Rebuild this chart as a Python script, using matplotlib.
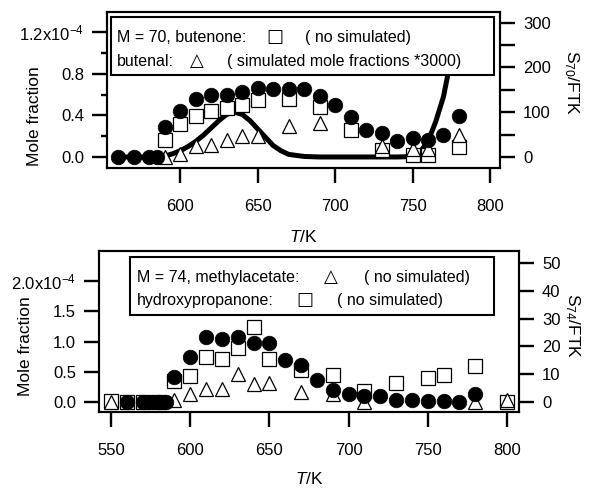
import matplotlib
matplotlib.use('Agg')
import matplotlib.pyplot as plt
from matplotlib.patches import Rectangle

plt.rcParams['font.family'] = ['Liberation Sans', 'DejaVu Sans']
plt.rcParams['mathtext.fontset'] = 'custom'
plt.rcParams['mathtext.rm'] = 'Liberation Sans'
plt.rcParams['mathtext.it'] = 'Liberation Sans:italic'

# M = 70 (mole fractions in units of 1e-4)
t70_total = [560, 570, 580, 585, 590, 600, 610, 620, 630, 640, 650, 660, 670,
             680, 690, 700, 710, 720, 730, 740, 750, 760, 770, 780]
x70_total = [0, 0, 0, 0, 0.29, 0.44, 0.56, 0.60, 0.60, 0.62, 0.66, 0.65, 0.65,
             0.65, 0.59, 0.50, 0.38, 0.26, 0.23, 0.15, 0.18, 0.16, 0.21, 0.39]
t70_butenone = [590, 600, 610, 620, 630, 640, 650, 670, 690, 710, 730, 750, 760, 780]
x70_butenone = [0.16, 0.32, 0.39, 0.44, 0.47, 0.50, 0.55, 0.56, 0.48, 0.26, 0.07, 0.02, 0.02, 0.10]
t70_butenal = [590, 600, 610, 620, 630, 640, 650, 670, 690, 730, 750, 760, 780]
x70_butenal = [0.0, 0.03, 0.11, 0.115, 0.16, 0.20, 0.20, 0.30, 0.33, 0.11, 0.08, 0.08, 0.21]
# simulated curve (x3000), runs up behind the legend box
t70_sim = [560, 570, 580, 590, 595, 600, 605, 610, 615, 620, 625, 630, 635, 640,
           645, 650, 655, 660, 665, 670, 680, 690, 700, 720, 740, 745, 750, 755,
           760, 765, 770, 774]
x70_sim = [0, 0, 0, 0.01, 0.03, 0.06, 0.10, 0.15, 0.21, 0.28, 0.35, 0.41, 0.43, 0.41,
           0.35, 0.27, 0.19, 0.11, 0.06, 0.025, 0.005, 0, 0, 0, 0, 0.002, 0.01, 0.05,
           0.15, 0.34, 0.58, 0.88]

# M = 74
t74_total = [560, 570, 575, 580, 585, 590, 600, 610, 620, 630, 640, 650, 660, 670,
             680, 690, 700, 710, 720, 730, 740, 750, 760, 770, 780]
x74_total = [0, 0, 0, 0, 0, 0.41, 0.74, 1.07, 1.04, 1.07, 0.98, 0.98, 0.69, 0.61,
             0.36, 0.20, 0.13, 0.10, 0.10, 0.03, 0.04, 0.02, 0.02, 0.0, 0.14]
t74_hydroxy = [550, 560, 570, 580, 590, 600, 610, 620, 630, 640, 650, 670, 690,
               710, 730, 750, 760, 780, 800]
x74_hydroxy = [0.01, 0, 0, 0, 0.35, 0.43, 0.74, 0.71, 0.90, 1.25, 0.71, 0.53, 0.45,
               0.19, 0.32, 0.39, 0.45, 0.59, 0.0]
t74_methylacetate = [550, 590, 600, 610, 620, 630, 640, 650, 670, 690, 710, 780, 800]
x74_methylacetate = [0, 0.03, 0.14, 0.21, 0.21, 0.47, 0.30, 0.32, 0.16, 0.13, 0, 0, 0.03]

W, H = 600, 490


def fx(px):
    return px / W


def fy(py):
    return 1 - py / H


def style(ax):
    for s in ax.spines.values():
        s.set_linewidth(1.5)
    ax.tick_params(axis='x', direction='out', length=11, width=1.7, pad=11, labelsize=12)
    ax.tick_params(axis='y', direction='out', length=10.5, width=1.7, pad=6, labelsize=12)
    ax.tick_params(which='minor', direction='out', length=4.5, width=1.7)
    ax.tick_params(top=False)


def points(ax, t_sq, v_sq, t_tri, v_tri, t_c, v_c):
    ax.plot(t_sq, v_sq, ls='none', marker='s', ms=9.5, mfc='white', mec='black', mew=0.9, zorder=3)
    ax.plot(t_tri, v_tri, ls='none', marker='^', ms=10, mfc='white', mec='black', mew=0.9, zorder=4)
    ax.plot(t_c, v_c, ls='none', marker='o', ms=10.5, mfc='black', mec='black', mew=0.5, zorder=5)


fig = plt.figure(figsize=(6, 4.9), dpi=100)

# ---- top panel ----
ax1 = fig.add_axes([fx(107), fy(168), 393 / W, 156 / H])
ax1.plot(t70_sim, x70_sim, color='black', lw=3.6, zorder=2)
points(ax1, t70_butenone, x70_butenone, t70_butenal, x70_butenal, t70_total, x70_total)
ax1.set_xlim(552.7, 806.5)
ax1.set_ylim(-0.106, 1.394)
ax1.set_xticks([600, 650, 700, 750, 800])
ax1.set_yticks([0, 0.4, 0.8, 1.2])
ax1.set_yticklabels(['0.0', '0.4', '0.8', '1.2x10$^{-4}$'])
ax1.set_yticks([0.2, 0.6, 1.0], minor=True)
style(ax1)
ax1.set_ylabel('Mole fraction', fontsize=12.5)
ax1.yaxis.set_label_coords(-0.165, 0.33)
ax1.set_xlabel('$T$/K', fontsize=12.5)
ax1.xaxis.set_label_coords(0.5, -0.39)

r1 = ax1.twinx()
r1.set_ylim(-24.6, 324)
r1.set_yticks([0, 100, 200, 300])
r1.set_yticks([50, 150, 250], minor=True)
style(r1)
r1.tick_params(which='minor', length=10.5)
r1.set_ylabel('S$_{70}$/FTK', fontsize=12.5, rotation=270)
r1.yaxis.set_label_coords(1.205, 0.55)

# ---- bottom panel ----
ax2 = fig.add_axes([fx(99), fy(412), 420 / W, 161 / H])
points(ax2, t74_hydroxy, x74_hydroxy, t74_methylacetate, x74_methylacetate, t74_total, x74_total)
ax2.set_xlim(542.4, 807.6)
ax2.set_ylim(-0.165, 2.5)
ax2.set_xticks([550, 600, 650, 700, 750, 800])
ax2.set_yticks([0, 0.5, 1.0, 1.5, 2.0])
ax2.set_yticklabels(['0.0', '0.5', '1.0', '1.5', '2.0x10$^{-4}$'])
style(ax2)
ax2.set_ylabel('Mole fraction', fontsize=12.5)
ax2.yaxis.set_label_coords(-0.157, 0.41)
ax2.set_xlabel('$T$/K', fontsize=12.5)
ax2.xaxis.set_label_coords(0.5, -0.366)

r2 = ax2.twinx()
r2.set_ylim(-3.6, 54.3)
r2.set_yticks([0, 10, 20, 30, 40, 50])
style(r2)
r2.set_ylabel('S$_{74}$/FTK', fontsize=12.5, rotation=270)
r2.yaxis.set_label_coords(1.15, 0.534)

# ---- legend boxes ----
fs = 11.5
sym = dict(fontsize=13, ha='center', va='baseline', zorder=6, family=['DejaVu Sans'])
txt = dict(fontsize=fs, va='baseline', zorder=6)

fig.add_artist(Rectangle((fx(111), fy(75)), (494 - 111) / W, (75 - 17) / H,
                         transform=fig.transFigure, fc='white', ec='black', lw=1.5, zorder=5))
fig.text(fx(117), fy(42), 'M = 70, butenone:', **txt)
fig.text(fx(275), fy(42), '\u25a1', **sym)
fig.text(fx(305), fy(42), '( no simulated)', **txt)
fig.text(fx(117), fy(66), 'butenal:', **txt)
fig.text(fx(197), fy(66), '\u25b3', **sym)
fig.text(fx(227), fy(66), '( simulated mole fractions *3000)', **txt)

fig.add_artist(Rectangle((fx(130), fy(315)), (494 - 130) / W, (315 - 257) / H,
                         transform=fig.transFigure, fc='white', ec='black', lw=1.5, zorder=5))
fig.text(fx(137), fy(282), 'M = 74, methylacetate:', **txt)
fig.text(fx(331), fy(282), '\u25b3', **sym)
fig.text(fx(364), fy(282), '( no simulated)', **txt)
fig.text(fx(137), fy(305), 'hydroxypropanone:', **txt)
fig.text(fx(305), fy(305), '\u25a1', **sym)
fig.text(fx(337), fy(305), '( no simulated)', **txt)

fig.savefig('out.png', dpi=100)
